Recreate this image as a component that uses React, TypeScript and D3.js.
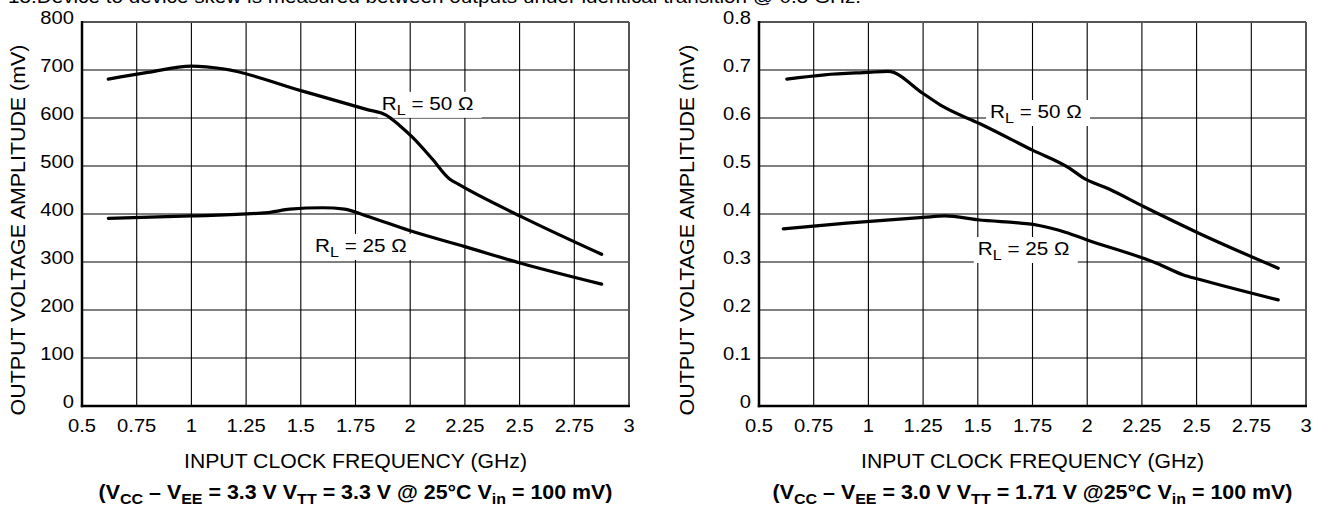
import React from 'react';
import * as d3 from 'd3';

const W = 1328;
const H = 508;
const FONT = '"Liberation Sans", Arial, Helvetica, sans-serif';

// frequency axis, shared by both panels
const freqTicks = [0.5, 0.75, 1, 1.25, 1.5, 1.75, 2, 2.25, 2.5, 2.75, 3];
const freqLabels = ['0.5', '0.75', '1', '1.25', '1.5', '1.75', '2', '2.25', '2.5', '2.75', '3'];

// left panel (mV)
const leftTicks = [0, 100, 200, 300, 400, 500, 600, 700, 800];
const leftTickLabels = ['0', '100', '200', '300', '400', '500', '600', '700', '800'];
const left50: [number, number][] = [
  [0.62, 681], [0.8, 695], [1.0, 708], [1.15, 702], [1.5, 657], [1.8, 618],
  [1.89, 606], [1.95, 585], [2.01, 560], [2.1, 515], [2.18, 473],
  [2.22, 462], [2.51, 394], [2.875, 316],
];
const left25: [number, number][] = [
  [0.62, 391], [1.0, 396], [1.35, 403], [1.45, 410], [1.6, 413], [1.7, 410],
  [1.8, 396], [2.0, 365], [2.25, 332], [2.51, 297], [2.875, 254],
];

// right panel (values as printed on the axis)
const rightTicks = [0, 0.1, 0.2, 0.3, 0.4, 0.5, 0.6, 0.7, 0.8];
const rightTickLabels = ['0', '0.1', '0.2', '0.3', '0.4', '0.5', '0.6', '0.7', '0.8'];
const right50: [number, number][] = [
  [0.627, 0.681], [0.8, 0.69], [1.0, 0.695], [1.09, 0.697], [1.25, 0.651],
  [1.34, 0.624], [1.51, 0.588], [1.75, 0.533], [1.92, 0.495], [1.98, 0.476],
  [2.1, 0.452], [2.26, 0.415], [2.51, 0.36], [2.873, 0.287],
];
const right25: [number, number][] = [
  [0.611, 0.369], [0.9, 0.381], [1.25, 0.393], [1.35, 0.396], [1.5, 0.388],
  [1.78, 0.376], [1.9, 0.362], [2.0, 0.346], [2.32, 0.297], [2.44, 0.273],
  [2.51, 0.264], [2.873, 0.221],
];

type Pt = [number, number];

function T({ x, y, sx = 1.12, anchor = 'start', size = 18, weight = 'normal', rotate = 0, children }: any) {
  const tr = `translate(${x},${y})` + (rotate ? ` rotate(${rotate})` : '') + ` scale(${sx},1)`;
  return (
    <text transform={tr} textAnchor={anchor} fontSize={size} fontWeight={weight} fontFamily={FONT} fill="#000">
      {children}
    </text>
  );
}

function RLabel({ x, y, ohms }: { x: number; y: number; ohms: string }) {
  return (
    <g>
      <rect x={x - 4} y={y - 18} width={104} height={26} fill="#fff" />
      <T x={x} y={y} sx={1.15}>
        R<tspan fontSize="0.78em" dy={5}>L</tspan>
        <tspan dy={-5}>{` = ${ohms} Ω`}</tspan>
      </T>
    </g>
  );
}

function Caption({ x, y, parts }: { x: number; y: number; parts: string[] }) {
  // parts alternate: normal, subscript, normal, subscript...
  return (
    <T x={x} y={y} anchor="middle" sx={1.07} size={20} weight="bold">
      {parts.map((p, i) =>
        i % 2 === 1 ? (
          <tspan key={i} fontSize="0.75em" dy={5}>{p}</tspan>
        ) : (
          <tspan key={i} dy={i === 0 ? 0 : -5}>{p}</tspan>
        )
      )}
    </T>
  );
}

function Panel({ x0, yTicks, yLabels, yMax, s50, s25, l50, l25, caption, yTitleX }: any) {
  const x = d3.scaleLinear().domain([0.5, 3]).range([x0, x0 + 547]);
  const y = d3.scaleLinear().domain([0, yMax]).range([406, 22]);
  const line = d3.line<Pt>().x(d => x(d[0])).y(d => y(d[1])).curve(d3.curveMonotoneX);
  const [xl, xr] = x.range();
  const [yb, yt] = y.range();
  const cx = (xl + xr) / 2;

  return (
    <g>
      {freqTicks.slice(1, -1).map(t => (
        <line key={'vx' + t} x1={x(t)} x2={x(t)} y1={yt} y2={yb} stroke="#000" strokeWidth={1.1} />
      ))}
      {yTicks.slice(1, -1).map((t: number) => (
        <line key={'hy' + t} x1={xl} x2={xr} y1={y(t)} y2={y(t)} stroke="#000" strokeWidth={1.1} />
      ))}
      <line x1={xl} x2={xr} y1={yt} y2={yt} stroke="#555" strokeWidth={2} />
      <line x1={xr} x2={xr} y1={yt} y2={yb} stroke="#555" strokeWidth={2} />
      <line x1={xl} x2={xl} y1={yt - 1} y2={yb + 1.2} stroke="#000" strokeWidth={2.5} />
      <line x1={xl - 1.2} x2={xr + 1} y1={yb} y2={yb} stroke="#000" strokeWidth={2.5} />

      <RLabel x={x(l50[0])} y={y(l50[1])} ohms="50" />
      <RLabel x={x(l25[0])} y={y(l25[1])} ohms="25" />

      <path d={line(s50) || ''} fill="none" stroke="#000" strokeWidth={3.2} strokeLinecap="round" />
      <path d={line(s25) || ''} fill="none" stroke="#000" strokeWidth={3.2} strokeLinecap="round" />

      {freqTicks.map((t, i) => (
        <T key={'xt' + t} x={x(t)} y={432} anchor="middle">{freqLabels[i]}</T>
      ))}
      {yTicks.map((t: number, i: number) => (
        <T key={'yt' + t} x={xl - 8} y={y(t) + 2} anchor="end">{yLabels[i]}</T>
      ))}

      <T x={cx} y={468} anchor="middle" size={20} sx={1.06}>INPUT CLOCK FREQUENCY (GHz)</T>
      <T x={yTitleX} y={230} anchor="middle" size={20} sx={1.07} rotate={-90}>OUTPUT VOLTAGE AMPLITUDE (mV)</T>
      <Caption x={cx} y={499} parts={caption} />
    </g>
  );
}

export default function App() {
  return (
    <svg width={W} height={H} style={{ position: 'absolute', left: 0, top: 0, background: '#fff' }}>
      <rect width={W} height={H} fill="#fff" />
      <T x={8} y={3} size={18} sx={1.15}>15.Device to device skew is measured between outputs under identical transition @ 0.5 GHz.</T>
      <Panel
        x0={82}
        yTicks={leftTicks}
        yLabels={leftTickLabels}
        yMax={800}
        s50={left50}
        s25={left25}
        l50={[1.87, 617]}
        l25={[1.565, 321]}
        yTitleX={25}
        caption={['(V', 'CC', ' – V', 'EE', ' = 3.3 V V', 'TT', ' = 3.3 V @ 25°C V', 'in', ' = 100 mV)']}
      />
      <Panel
        x0={759}
        yTicks={rightTicks}
        yLabels={rightTickLabels}
        yMax={0.8}
        s50={right50}
        s25={right25}
        l50={[1.556, 0.6]}
        l25={[1.5, 0.3146]}
        yTitleX={694}
        caption={['(V', 'CC', ' – V', 'EE', ' = 3.0 V V', 'TT', ' = 1.71 V @25°C V', 'in', ' = 100 mV)']}
      />
    </svg>
  );
}
